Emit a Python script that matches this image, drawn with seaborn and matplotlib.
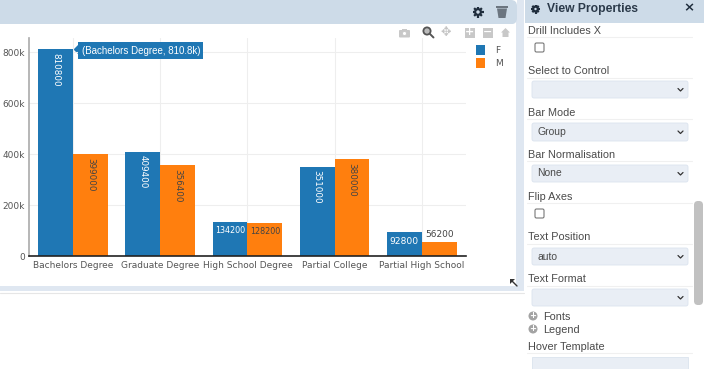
import math
import pandas as pd
import matplotlib
matplotlib.use('Agg')
import matplotlib.pyplot as plt
from matplotlib.patches import Rectangle, FancyBboxPatch, Circle, Polygon
import seaborn as sns

W, H = 704, 371

categories = ['Bachelors Degree', 'Graduate Degree', 'High School Degree', 'Partial College', 'Partial High School']
values_f = [810800, 409400, 134200, 351000, 92800]
values_m = [399000, 356400, 128200, 380000, 56200]
hue_order = ['F', 'M']
colors = ['#1f77b4', '#ff7f0e']
y_ticks = [0, 200000, 400000, 600000, 800000]
y_labels = ['0', '200k', '400k', '600k', '800k']

df = pd.DataFrame({
    'category': categories * 2,
    'gender': ['F'] * len(values_f) + ['M'] * len(values_m),
    'value': values_f + values_m,
})

sns.set_theme(style='whitegrid')
plt.rcParams['font.family'] = ['DejaVu Sans']

fig = plt.figure(figsize=(W / 100, H / 100), dpi=100, facecolor='white')

# page furniture, drawn in pixel coords
bg = fig.add_axes([0, 0, 1, 1], zorder=0)
bg.set_xlim(0, W)
bg.set_ylim(H, 0)
bg.axis('off')

HEADER = '#cddbe8'
STRIP = '#dfe7f1'
FIELD = '#e9eef5'
LABEL = '#4a4a4a'
SANS = 'Liberation Sans'


def rect(x0, y0, x1, y1, color, **kw):
    bg.add_patch(Rectangle((x0, y0), x1 - x0, y1 - y0, facecolor=color, edgecolor='none', **kw))


def field_label(y, text):
    bg.text(528, y + 0.5, text, fontsize=7.8, family=SANS, color=LABEL, va='center')
    bg.plot([527, 692], [y + 7, y + 7], color='#f0f0f0', lw=0.8)


def select(y0, y1, text=''):
    bg.add_patch(FancyBboxPatch((532, y0), 156, y1 - y0, boxstyle='round,pad=0,rounding_size=2',
                                facecolor=FIELD, edgecolor='#dbe3ee', lw=0.6))
    if text:
        bg.text(537, (y0 + y1) / 2, text, fontsize=7.5, family=SANS, color=LABEL, va='center')
    yc = (y0 + y1) / 2
    bg.plot([678, 680.5, 683], [yc - 1, yc + 1.5, yc - 1], color='#333333', lw=0.9)


def checkbox(y0):
    bg.add_patch(FancyBboxPatch((535, y0), 9, 9, boxstyle='round,pad=0,rounding_size=1.5',
                                facecolor='white', edgecolor='#777777', lw=0.8))


def gear(xc, yc, r):
    for i in range(8):
        a = i * math.pi / 4
        bg.plot([xc + 0.6 * r * math.cos(a), xc + r * math.cos(a)],
                [yc + 0.6 * r * math.sin(a), yc + r * math.sin(a)],
                color='#1f2d3d', lw=1.6, solid_capstyle='butt')
    bg.add_patch(Circle((xc, yc), 0.52 * r, facecolor=HEADER, edgecolor='#1f2d3d', lw=1.6))


# chart panel
bg.add_patch(FancyBboxPatch((-6, -6), 523, 30, boxstyle='round,pad=0,rounding_size=6',
                            facecolor=HEADER, edgecolor='none'))
rect(0, 286, 517, 291, STRIP)
rect(516, 0, 524, 291, STRIP)
rect(510, 0, 517, 6, 'white')
bg.add_patch(FancyBboxPatch((500, 0), 17, 24, boxstyle='round,pad=0,rounding_size=6',
                            facecolor=HEADER, edgecolor='none'))
bg.plot([0, 524], [293, 293], color='#e6e6e6', lw=0.8)
gear(478, 12, 5.5)
bg.add_patch(Polygon([(497, 8.5), (507, 8.5), (505.5, 18), (498.5, 18)], facecolor='#6b7580', edgecolor='none'))
rect(496, 6, 508, 7.5, '#6b7580')

# plot toolbar
bg.add_patch(FancyBboxPatch((399, 30), 11, 7.5, boxstyle='round,pad=0,rounding_size=1', facecolor='#c8c8c8', edgecolor='none'))
rect(402, 28.5, 407, 31, '#c8c8c8')
bg.add_patch(Circle((404.5, 33.5), 2, facecolor='white', edgecolor='#c8c8c8', lw=0.6))
bg.add_patch(Circle((427, 31), 3.6, facecolor='#bbbbbb', edgecolor='#555555', lw=1.3))
bg.plot([430, 433.5], [34, 37.5], color='#555555', lw=1.4)
bg.text(446, 32.5, '\u2725', fontsize=9, color='#c4c4c4', ha='center', va='center')
rect(465, 27.5, 475, 37.5, '#c8c8c8')
rect(483, 27.5, 493, 37.5, '#c8c8c8')
bg.text(470, 32.3, '+', fontsize=8, color='white', ha='center', va='center', weight='bold')
bg.text(488, 32.3, '\u2212', fontsize=8, color='white', ha='center', va='center', weight='bold')
bg.add_patch(Polygon([(501, 32.5), (505.5, 28), (510, 32.5), (508.5, 32.5), (508.5, 37), (502.5, 37), (502.5, 32.5)],
                     facecolor='#c8c8c8', edgecolor='none'))

# resize handle
bg.add_patch(Polygon([(510, 279), (515, 279), (510, 284)], facecolor='#333333', edgecolor='none'))
bg.plot([512, 517], [281, 286], color='#333333', lw=1)

# properties panel
rect(525, 0, 704, 23, HEADER)
gear(535.5, 9, 4.5)
bg.text(547, 9, 'View Properties', fontsize=8.7, family=SANS, weight='bold', color='#2b3a4a', va='center')
bg.text(689, 7.5, '\u00d7', fontsize=9.5, color='#1f2d3d', ha='center', va='center', weight='bold')

field_label(30, 'Drill Includes X')
checkbox(43)
field_label(71, 'Select to Control')
select(81, 98)
field_label(112, 'Bar Mode')
select(123, 141, 'Group')
field_label(154, 'Bar Normalisation')
select(165, 182, 'None')
field_label(196, 'Flip Axes')
checkbox(209)
field_label(237, 'Text Position')
select(248, 265, 'auto')
field_label(279, 'Text Format')
select(289, 306)
for yc, name in [(316, 'Fonts'), (329, 'Legend')]:
    bg.add_patch(Circle((533, yc), 4.5, facecolor='#a3a3a3', edgecolor='none'))
    bg.text(533, yc - 0.3, '+', fontsize=6, color='white', ha='center', va='center', weight='bold')
    bg.text(543, yc + 1, name, fontsize=7.8, family=SANS, color=LABEL, va='center')
field_label(346, 'Hover Template')
bg.add_patch(Rectangle((532, 357), 156, 13, facecolor=FIELD, edgecolor='#dbe3ee', lw=0.6))
rect(525, 369, 694, 371, 'white')
bg.add_patch(FancyBboxPatch((694, 201), 9, 104, boxstyle='round,pad=0,rounding_size=4',
                            facecolor='#c1c1c1', edgecolor='none'))

# tooltip pointer sits just off the first bar
bg.add_patch(Polygon([(73.5, 49.5), (78, 45), (78, 54)], facecolor=colors[0], edgecolor='none'))

# chart
ax = fig.add_axes([29 / W, 1 - 256 / H, (466 - 29) / W, (256 - 38) / H], zorder=1)
ax.patch.set_alpha(0)
sns.barplot(data=df, x='category', y='value', hue='gender', hue_order=hue_order,
            palette=colors, width=0.8, gap=0, saturation=1, errorbar=None, linewidth=0, ax=ax)

ax.set_xlim(-0.505, 4.507)
ax.set_ylim(0, 855000)
ax.set_yticks(y_ticks)
ax.set_yticklabels(y_labels)
ax.set_xlabel('')
ax.set_ylabel('')
ax.tick_params(axis='both', length=0, labelsize=6.5, labelcolor='#555555', pad=3)
ax.tick_params(axis='x', pad=3.5)
ax.grid(True, color='#eeeeee', lw=0.8)
ax.set_axisbelow(True)
for s in ['top', 'right']:
    ax.spines[s].set_visible(False)
ax.spines['left'].set_color('#aaaaaa')
ax.spines['left'].set_linewidth(1.2)
ax.spines['bottom'].set_color('#222222')
ax.spines['bottom'].set_linewidth(1.2)

# text on the bars, same rule plotly "auto" uses
for container, txt_color in zip(ax.containers, ['white', '#444444']):
    for bar in container:
        h = bar.get_height()
        xc = bar.get_x() + bar.get_width() / 2
        label = '%d' % h
        if h > 200000:
            ax.annotate(label, (xc, h), xytext=(0, -2.5), textcoords='offset points', rotation=270,
                        ha='center', va='top', fontsize=6.3, color=txt_color)
        elif h > 80000:
            size = 5.8 if len(label) == 6 else 6.6
            ax.annotate(label, (xc, h), xytext=(0, -3), textcoords='offset points',
                        ha='center', va='top', fontsize=size, color=txt_color)
        else:
            ax.annotate(label, (xc, h), xytext=(0, 2), textcoords='offset points',
                        ha='center', va='bottom', fontsize=6.5, color='#444444')

# hover label on the first bar
ax.annotate('(Bachelors Degree, 810.8k)', (0, values_f[0]), xytext=(8.5, -1.5), textcoords='offset pixels',
            ha='left', va='center', fontsize=7.0, family=SANS, color='white', annotation_clip=False,
            bbox=dict(boxstyle='square,pad=0.35', facecolor=colors[0], edgecolor='none'))

sns.move_legend(ax, 'upper left', bbox_to_anchor=(1.014, 0.985), borderaxespad=0, frameon=False, title=None,
                fontsize=6.5, handlelength=1.0, handleheight=1.3, handletextpad=1.2, labelspacing=0.38,
                labelcolor='#555555')

plt.savefig('out.png', dpi=100)
